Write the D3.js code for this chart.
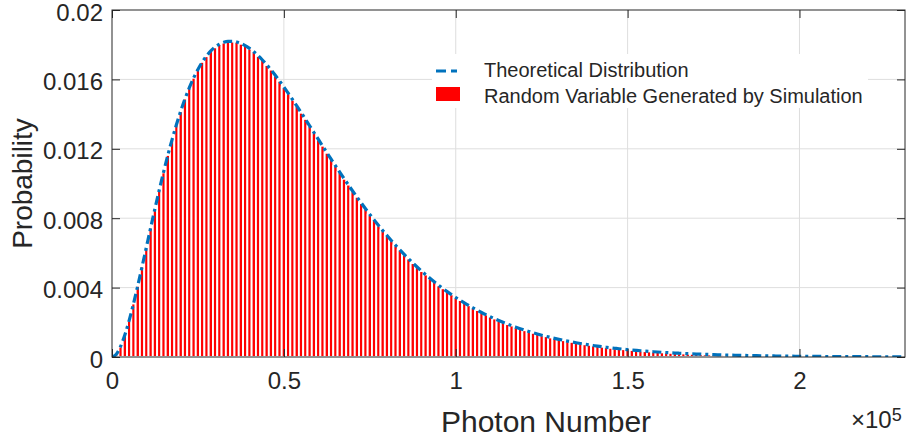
<!DOCTYPE html>
<html>
<head>
<meta charset="utf-8">
<script src="https://cdn.jsdelivr.net/npm/d3@7/dist/d3.min.js"></script>
<style>
  html, body { margin: 0; padding: 0; background: #ffffff; }
  svg { display: block; font-family: "Liberation Sans", Arial, Helvetica, sans-serif; }
</style>
</head>
<body>
<svg id="chart" width="910" height="437"></svg>
<script>
// ---------------- data (probabilities in units of 1e-4) ----------------
const binWidth = 1250; // photon-number bin width
const theoreticalProb = [
  0, 1.64, 6.11, 12.78, 21.14, 30.72, 41.15, 52.09, 63.28, 74.49,
  85.53, 96.26, 106.55, 116.31, 125.46, 133.96, 141.76, 148.85, 155.21, 160.84,
  165.76, 169.98, 173.51, 176.39, 178.63, 180.28, 181.36, 181.91, 181.96, 181.54,
  180.70, 179.46, 177.86, 175.92, 173.69, 171.19, 168.46, 165.51, 162.37, 159.07,
  155.64, 152.09, 148.44, 144.72, 140.94, 137.11, 133.26, 129.39, 125.52, 121.66,
  117.83, 114.02, 110.25, 106.52, 102.85, 99.24, 95.69, 92.21, 88.80, 85.46,
  82.21, 79.03, 75.94, 72.93, 70.00, 67.16, 64.40, 61.73, 59.14, 56.64,
  54.21, 51.88, 49.62, 47.44, 45.34, 43.32, 41.37, 39.50, 37.70, 35.97,
  34.31, 32.71, 31.18, 29.72, 28.31, 26.96, 25.67, 24.43, 23.25, 22.12,
  21.04, 20.01, 19.02, 18.08, 17.18, 16.32, 15.50, 14.72, 13.97, 13.26,
  12.58, 11.94, 11.33, 10.74, 10.19, 9.66, 9.15, 8.67, 8.22, 7.79,
  7.38, 6.99, 6.62, 6.26, 5.93, 5.61, 5.31, 5.03, 4.75, 4.50,
  4.25, 4.02, 3.80, 3.60, 3.40, 3.21, 3.04, 2.87, 2.71, 2.56,
  2.42, 2.28, 2.16, 2.04, 1.92, 1.82, 1.71, 1.62, 1.53, 1.44,
  1.36, 1.28, 1.21, 1.14, 1.08, 1.02, 0.96, 0.90, 0.85, 0.80,
  0.76, 0.71, 0.67, 0.63, 0.60, 0.56, 0.53, 0.50, 0.47, 0.44,
  0.42, 0.39, 0.37, 0.35, 0.33, 0.31, 0.29, 0.27, 0.26, 0.24,
  0.23, 0.21, 0.20, 0.19, 0.18, 0.17, 0.16, 0.15, 0.14, 0.13,
  0.12, 0.12, 0.11, 0.10, 0.10
];
const simulatedProb = [
  0, 1.71, 6.02, 12.90, 21.05, 30.86, 41.03, 52.21, 63.12, 74.60,
  85.41, 96.38, 106.42, 116.45, 125.31, 134.10, 141.62, 148.98, 155.07, 160.95,
  165.62, 170.10, 173.38, 176.52, 178.47, 180.41, 181.22, 182.05, 181.80, 181.70,
  180.55, 179.60, 177.71, 176.05, 173.54, 171.32, 168.30, 165.65, 162.22, 159.20,
  155.50, 152.22, 148.30, 144.85, 140.80, 137.24, 133.12, 129.52, 125.38, 121.79,
  117.70, 114.15, 110.12, 106.65, 102.72, 99.37, 95.57, 92.33, 88.68, 85.58,
  82.10, 79.15, 75.83, 73.05, 69.89, 67.28, 64.30, 61.85, 59.03, 56.76,
  54.11, 51.99, 49.52, 47.55, 45.24, 43.43, 41.27, 39.61, 37.61, 36.08,
  34.22, 32.82, 31.09, 29.82, 28.23, 27.05, 25.60, 24.51, 23.18, 22.20,
  20.98, 20.09, 18.96, 18.15, 17.12, 16.39, 15.45, 14.78, 13.92, 13.32,
  12.53, 11.99, 11.28, 10.79, 10.15, 9.70, 9.11, 8.71, 8.18, 7.83,
  7.34, 7.02, 6.59, 6.29, 5.90, 5.64, 5.28, 5.05, 4.72, 4.52,
  4.22, 4.04, 3.77, 3.62, 3.37, 3.23, 3.01, 2.89, 2.68, 2.58,
  2.39, 2.30, 2.13, 2.06, 1.90, 1.84, 1.69, 1.64, 1.50, 1.46,
  1.34, 1.30, 1.19, 1.16, 1.06, 1.03, 0.94, 0.92, 0.83, 0.82,
  0.74, 0.73, 0.65, 0.65, 0.58, 0.58, 0.51, 0.52, 0.45, 0.46,
  0.40, 0.41, 0.35, 0.37, 0.31, 0.33, 0.27, 0.29, 0.24, 0.26,
  0.21, 0.23, 0.18, 0.20, 0.16, 0.18, 0.14, 0.16, 0.12, 0.14,
  0.11, 0.13, 0.10, 0.11, 0.09
];
const probUnit = 1e-4;
const xTickValues = [0, 50000, 100000, 150000, 200000];
const xTickLabels = ["0", "0.5", "1", "1.5", "2"];
const yTickValues = [0, 0.004, 0.008, 0.012, 0.016, 0.02];
const yTickLabels = ["0", "0.004", "0.008", "0.012", "0.016", "0.02"];
const xDomain = [0, 230700];
const yDomain = [0, 0.02];
const legendLabels = ["Theoretical Distribution", "Random Variable Generated by Simulation"];
const xLabel = "Photon Number";
const yLabel = "Probability";

// ---------------- layout ----------------
const pLeft = 112, pRight = 905, pTop = 10, pBottom = 357;
const axisColor = "#262626";
const svg = d3.select("#chart");

const x = d3.scaleLinear().domain(xDomain).range([pLeft, pRight]);
const y = d3.scaleLinear().domain(yDomain).range([pBottom, pTop]);

svg.append("defs").append("clipPath").attr("id", "plotclip")
  .append("rect").attr("x", pLeft).attr("y", pTop)
  .attr("width", pRight - pLeft).attr("height", pBottom - pTop);

// grid
const grid = svg.append("g").attr("stroke", "#dedede").attr("stroke-width", 1);
xTickValues.slice(1).forEach(v => {
  grid.append("line").attr("x1", x(v)).attr("x2", x(v)).attr("y1", pTop).attr("y2", pBottom);
});
yTickValues.slice(1, -1).forEach(v => {
  grid.append("line").attr("x1", pLeft).attr("x2", pRight).attr("y1", y(v)).attr("y2", y(v));
});

// bars
const barData = simulatedProb.map((p, i) => ({ n: i * binWidth, p: p * probUnit }));
const step = x(binWidth) - x(0);
svg.append("g").attr("clip-path", "url(#plotclip)")
  .selectAll("rect").data(barData).join("rect")
  .attr("x", d => x(d.n) - step / 2)
  .attr("width", step)
  .attr("y", d => y(d.p))
  .attr("height", d => pBottom - y(d.p))
  .attr("fill", "#ff0000")
  .attr("stroke", "#ffffff")
  .attr("stroke-width", 1.9);

// theoretical line
const lineData = theoreticalProb.map((p, i) => ({ n: i * binWidth, p: p * probUnit }));
const line = d3.line().x(d => x(d.n)).y(d => y(d.p)).curve(d3.curveMonotoneX);
svg.append("path").datum(lineData)
  .attr("clip-path", "url(#plotclip)")
  .attr("d", line)
  .attr("fill", "none")
  .attr("stroke", "#0072BD")
  .attr("stroke-width", 3.2)
  .attr("stroke-dasharray", "9,4,3,4");

// axes
function styleAxis(g) {
  g.select(".domain").remove();
  g.selectAll(".tick line").attr("stroke", axisColor).attr("stroke-width", 1);
  g.selectAll(".tick text").attr("fill", axisColor).attr("font-size", 24)
    .attr("font-family", "Liberation Sans, Arial, sans-serif");
}
const xAxis = d3.axisBottom(x).tickValues(xTickValues)
  .tickFormat((d, i) => xTickLabels[i]).tickSize(-8).tickPadding(15);
svg.append("g").attr("transform", `translate(0,${pBottom})`).call(xAxis).call(styleAxis);

const xAxisTop = d3.axisTop(x).tickValues(xTickValues).tickFormat("").tickSize(-8);
svg.append("g").attr("transform", `translate(0,${pTop})`).call(xAxisTop).call(styleAxis);

const yAxis = d3.axisLeft(y).tickValues(yTickValues)
  .tickFormat((d, i) => yTickLabels[i]).tickSize(-8).tickPadding(9);
const yG = svg.append("g").attr("transform", `translate(${pLeft},0)`).call(yAxis).call(styleAxis);
yG.selectAll(".tick text").attr("dy", "0.42em");

const yAxisRight = d3.axisRight(y).tickValues(yTickValues).tickFormat("").tickSize(-8);
svg.append("g").attr("transform", `translate(${pRight},0)`).call(yAxisRight).call(styleAxis);

// frame
svg.append("rect").attr("x", pLeft).attr("y", pTop)
  .attr("width", pRight - pLeft).attr("height", pBottom - pTop)
  .attr("fill", "none").attr("stroke", axisColor).attr("stroke-width", 1);

// axis labels
svg.append("text").attr("x", 546).attr("y", 432).attr("text-anchor", "middle")
  .attr("font-size", 30).attr("fill", axisColor).text(xLabel);
svg.append("text").attr("transform", `translate(32,${(pTop + pBottom) / 2}) rotate(-90)`)
  .attr("text-anchor", "middle").attr("font-size", 28).attr("fill", axisColor).text(yLabel);

// exponent
const expo = svg.append("text").attr("x", 851).attr("y", 428).attr("fill", axisColor)
  .attr("font-size", 24);
expo.append("tspan").text("\u00d710");
expo.append("tspan").attr("dy", -7).attr("font-size", 18).text("5");

// legend
const lg = svg.append("g");
lg.append("rect").attr("x", 432).attr("y", 54).attr("width", 436).attr("height", 54)
  .attr("fill", "#ffffff");
lg.append("line").attr("x1", 436).attr("x2", 458).attr("y1", 71).attr("y2", 71)
  .attr("stroke", "#0072BD").attr("stroke-width", 3).attr("stroke-dasharray", "10,5,6");
lg.append("rect").attr("x", 436).attr("y", 87).attr("width", 24).attr("height", 14)
  .attr("fill", "#ff0000");
lg.append("text").attr("x", 484).attr("y", 77).attr("font-size", 20).attr("fill", axisColor)
  .text(legendLabels[0]);
lg.append("text").attr("x", 484).attr("y", 103).attr("font-size", 20).attr("fill", axisColor)
  .text(legendLabels[1]);
</script>
</body>
</html>
